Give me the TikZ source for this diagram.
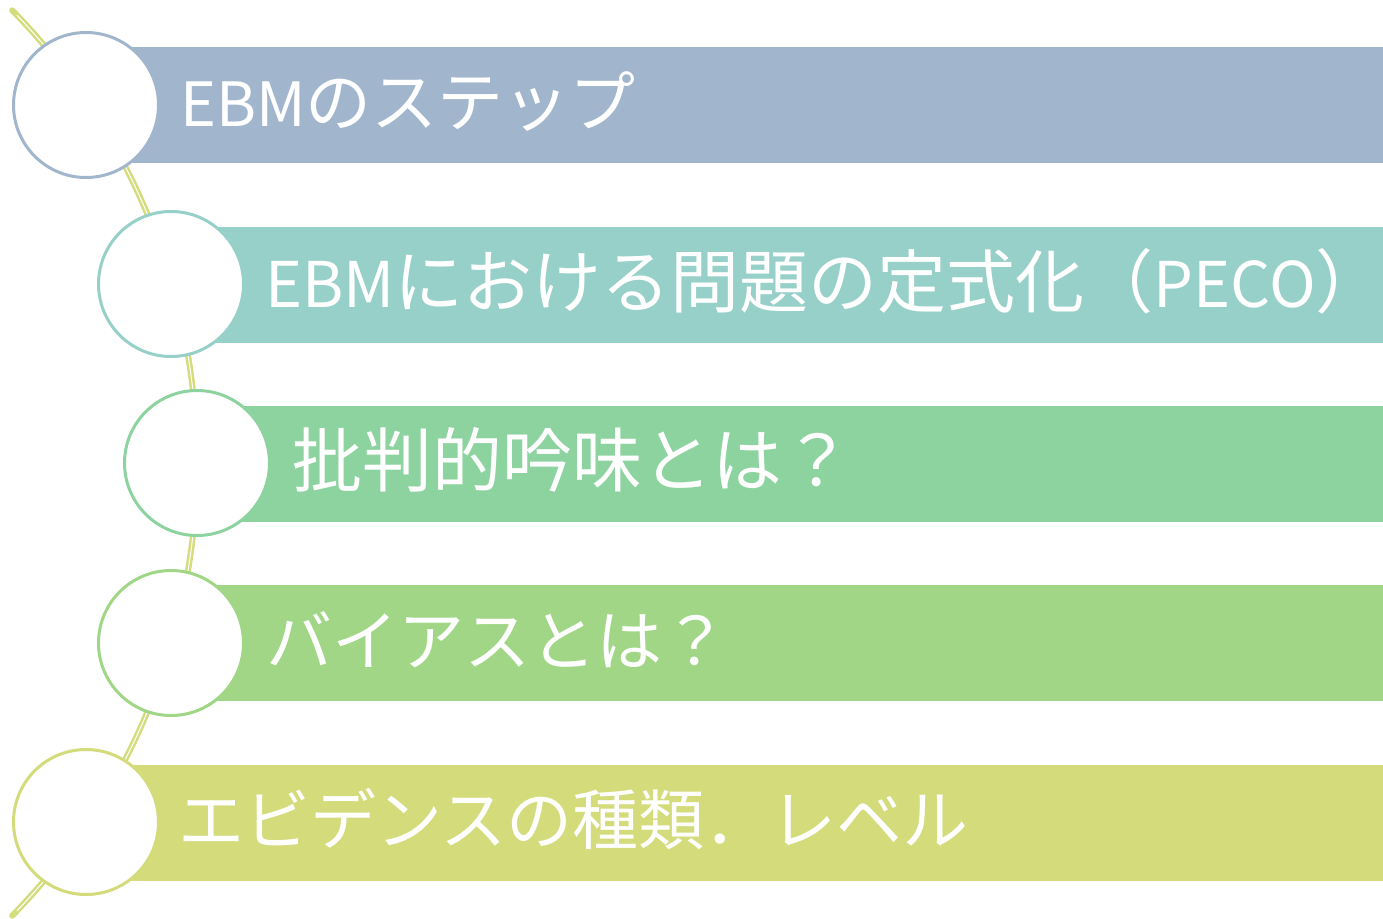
\documentclass[tikz,border=0pt]{standalone}
\usepackage{fontspec}
\newfontfamily\jpfont{Noto Sans CJK JP}
\newcommand{\latn}[2][61]{{\fontsize{#1}{70}\selectfont #2}}
\definecolor{cA}{HTML}{A1B6CC}
\definecolor{cB}{HTML}{97D0C8}
\definecolor{cC}{HTML}{8DD3A0}
\definecolor{cD}{HTML}{A0D686}
\definecolor{cE}{HTML}{D3DB7B}
\definecolor{arcc}{HTML}{D4DC7E}
\tikzset{
  bar/.style={rectangle, fill=#1, draw=none, anchor=west, minimum height=116pt, inner sep=0pt},
  disc/.style={circle, fill=white, draw=#1, line width=3pt, minimum size=145pt, inner sep=0pt},
  lbl/.style={anchor=west, text=white, inner sep=0pt, font=\jpfont\fontsize{#1}{76}\selectfont},
  lbl/.default=66,
}
\begin{document}
\begin{tikzpicture}[x=1pt,y=-1pt]
\useasboundingbox (0,0) rectangle (1383,918);
% decorative arc
\draw[arcc, line width=6pt, line cap=round] ([shift={(-44.4:647)}]-450,463) arc[start angle=-44.4, end angle=44.4, radius=647];
\draw[white, line width=1pt] ([shift={(-43.8:647)}]-450,463) arc[start angle=-43.8, end angle=43.8, radius=647];
% bars
\node[bar=cA, minimum width=1297pt] (b1) at (86,105) {};
\node[bar=cB, minimum width=1212pt] (b2) at (171,284.5) {};
\node[bar=cC, minimum width=1186pt] (b3) at (197,463.5) {};
\node[bar=cD, minimum width=1212pt] (b4) at (171,642.5) {};
\node[bar=cE, minimum width=1297pt] (b5) at (86,822.5) {};
% circles
\node[disc=cA] (c1) at (86,105) {};
\node[disc=cB] (c2) at (171,284) {};
\node[disc=cC] (c3) at (197,463) {};
\node[disc=cD] (c4) at (171,643) {};
\node[disc=cE] (c5) at (86,822) {};
% labels
\node[lbl] (t1) at (180,102) {\latn{EBM}のステップ};
\node[lbl=69] (t2) at (265,281) {\latn[63]{EBM}における問題の定式化（\latn[63]{PECO}）};
\node[lbl=70] (t3) at (292,460) {批判的吟味とは？};
\node[lbl] (t4) at (266,640) {バイアスとは？};
\node[lbl] (t5) at (178,819) {エビデンスの種類．レベル};
\end{tikzpicture}
\end{document}
